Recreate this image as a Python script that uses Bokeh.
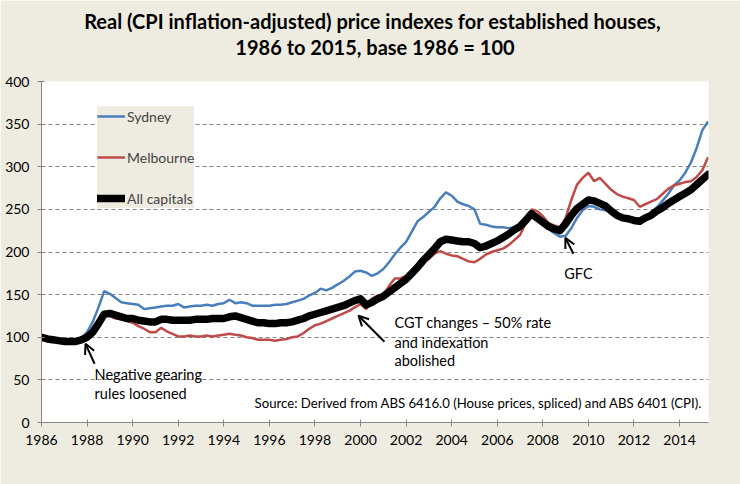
from bokeh.plotting import figure
from bokeh.models import (Range1d, FixedTicker, Label, Arrow, OpenHead, Legend, LegendItem, Title)
from bokeh.embed import file_html
from bokeh.resources import INLINE

# ---- data (quarterly, 1986 Q1 .. 2015 Q2) ----
start_year = 1986
sydney = [
    100, 99, 97, 96,   95, 95, 96, 99,   106, 118, 135, 154,   151, 146, 141, 140,
    139, 138, 133, 134,   135, 136, 137, 137,   139, 135, 136, 137,   137, 138, 137, 139,
    140, 144, 140, 141,   140, 137, 137, 137,   137, 138, 138, 139,   141, 143, 145, 149,
    152, 157, 155, 158,   162, 166, 171, 177,   178, 176, 172, 175,   180, 188, 197, 205,
    212, 224, 236, 241,   247, 253, 263, 270,   266, 259, 256, 254,   250, 233, 232, 230,
    229, 229, 228, 229,   231, 238, 245, 240,   233, 227, 222, 218,   219, 228, 240, 249,
    254, 253, 250, 249,   247, 243, 240, 238,   238, 236, 238, 246,   252, 260, 268, 278,
    284, 293, 305, 322,   343, 353,
]
melbourne = [
    100, 98, 97, 96,   95, 95, 95, 96,   99, 104, 115, 126,   125, 122, 121, 119,
    117, 113, 110, 106,   106, 111, 107, 104,   101, 101, 102, 101,   101, 102, 101, 102,
    103, 104, 103, 102,   100, 99, 97, 97,   97, 96, 97, 98,   100, 101, 105, 110,
    114, 116, 119, 122,   125, 128, 131, 135,   139, 133, 145, 149,   150, 160, 169, 169,
    172, 178, 183, 188,   192, 198, 201, 198,   196, 195, 192, 189,   188, 192, 197, 200,
    202, 204, 208, 214,   220, 234, 250, 248,   242, 234, 231, 229,   240, 261, 279, 287,
    293, 283, 287, 280,   273, 268, 265, 263,   261, 253, 256, 259,   262, 268, 274, 278,
    280, 282, 283, 288,   296, 311,
]
all_capitals = [
    100, 98, 97, 96,   95, 95, 95, 97,   100, 106, 116, 127,   128, 126, 124, 122,
    122, 120, 119, 118,   118, 121, 121, 120,   120, 120, 120, 121,   121, 121, 122, 122,
    122, 124, 125, 123,   121, 119, 117, 117,   116, 116, 117, 117,   118, 120, 122, 125,
    127, 129, 131, 133,   135, 137, 140, 143,   145, 138, 141, 145,   148, 153, 158, 163,
    168, 175, 182, 190,   197, 204, 212, 215,   214, 213, 212, 212,   210, 205, 207, 210,
    213, 217, 221, 226,   230, 237, 245, 240,   235, 230, 227, 225,   233, 243, 251, 256,
    261, 260, 257, 254,   248, 243, 240, 239,   237, 236, 240, 243,   248, 252, 257, 261,
    265, 269, 273, 279,   285, 291,
]
x_ticks = list(range(1986, 2015, 2))
y_ticks = [0, 50, 100, 150, 200, 250, 300, 350, 400]

n = len(sydney)
assert n == len(melbourne) == len(all_capitals)
quarters = [start_year + i / 4 for i in range(n)]

BG = "#EEECE1"
FONT = "Lato"

p = figure(width=740, height=484, output_backend="svg", toolbar_location=None,
           x_range=Range1d(1986, 2015.27), y_range=Range1d(0, 400),
           min_border_left=41, min_border_right=32, min_border_top=81, min_border_bottom=62)
p.border_fill_color = BG
p.background_fill_color = "white"
p.outline_line_color = None

# axes
for ax in (p.xaxis[0], p.yaxis[0]):
    ax.axis_line_color = "#868686"
    ax.major_tick_line_color = "#868686"
    ax.minor_tick_line_color = None
    ax.major_label_text_font = FONT
    ax.major_label_text_font_size = "14px"
    ax.major_label_text_color = "black"
    ax.major_tick_in = 3
    ax.major_tick_out = 4
p.xaxis.ticker = FixedTicker(ticks=x_ticks)
p.yaxis.ticker = FixedTicker(ticks=y_ticks)
p.xaxis.major_label_standoff = 8
p.yaxis.major_label_standoff = 8

p.xgrid.grid_line_color = None
p.ygrid.grid_line_color = "#868686"
p.ygrid.grid_line_dash = "4 3"
p.ygrid.grid_line_width = 1

r_syd = p.line(quarters, sydney, line_color="#4A7EBB", line_width=2.5)
r_mel = p.line(quarters, melbourne, line_color="#BE4B48", line_width=2.5)
r_all = p.line(quarters, all_capitals, line_color="black", line_width=7.5, line_join="round", line_cap="round")

legend = Legend(items=[LegendItem(label="Sydney", renderers=[r_syd]),
                       LegendItem(label="Melbourne", renderers=[r_mel]),
                       LegendItem(label="All capitals", renderers=[r_all])],
                location=(56, 214), background_fill_color=BG, background_fill_alpha=1,
                border_line_color=None, padding=16, margin=0, spacing=21,
                glyph_width=28, glyph_height=20, label_height=20, label_standoff=2,
                label_text_font=FONT, label_text_font_size="14px")
p.add_layout(legend)

# titles: spacer nearest the plot, then line 2, then line 1
p.add_layout(Title(text=" ", text_font=FONT, text_font_size="17.5px", standoff=0), "above")
p.add_layout(Title(text="1986 to 2015, base 1986 = 100", align="center", text_font=FONT,
                   text_font_size="20px", text_font_style="bold", text_color="black",
                   standoff=0, text_line_height=1.0), "above")
p.add_layout(Title(text="Real (CPI inflation-adjusted)  price indexes for established houses,",
                   align="center", text_font=FONT, text_font_size="20px", text_font_style="bold",
                   text_color="black", standoff=0, text_line_height=1.0), "above")

def note(x, y, t, align="left", size="14.5px"):
    p.add_layout(Label(x=x, y=y, text=t, text_align=align, text_baseline="middle",
                       text_font=FONT, text_font_size=size, text_color="black"))

note(1988.33, 56, "Negative gearing")
note(1988.33, 33.7, "rules loosened")
note(2001.49, 117, "CGT changes \u2013 50% rate")
note(2001.49, 93.5, "and indexation")
note(2001.49, 72.4, "abolished")
note(2009.56, 174.4, "GFC", align="center")
note(1995.35, 23.1, "Source: Derived from ABS 6416.0  (House prices, spliced) and ABS 6401 (CPI).", size="13.2px")

for (x0, y0, x1, y1) in ((1988.33, 68.9, 1987.93, 92.3),
                         (2001.05, 94.7, 1999.91, 125.2),
                         (2009.34, 197.9, 2008.99, 216.7)):
    p.add_layout(Arrow(x_start=x0, y_start=y0, x_end=x1, y_end=y1, line_width=2, line_color="black",
                       end=OpenHead(size=10, line_width=2, line_color="black")))

html = file_html(p, INLINE)
html = html.replace("<body>", '<body style="background-color:#EEECE1;">', 1)
open("out.html", "w").write(html)
